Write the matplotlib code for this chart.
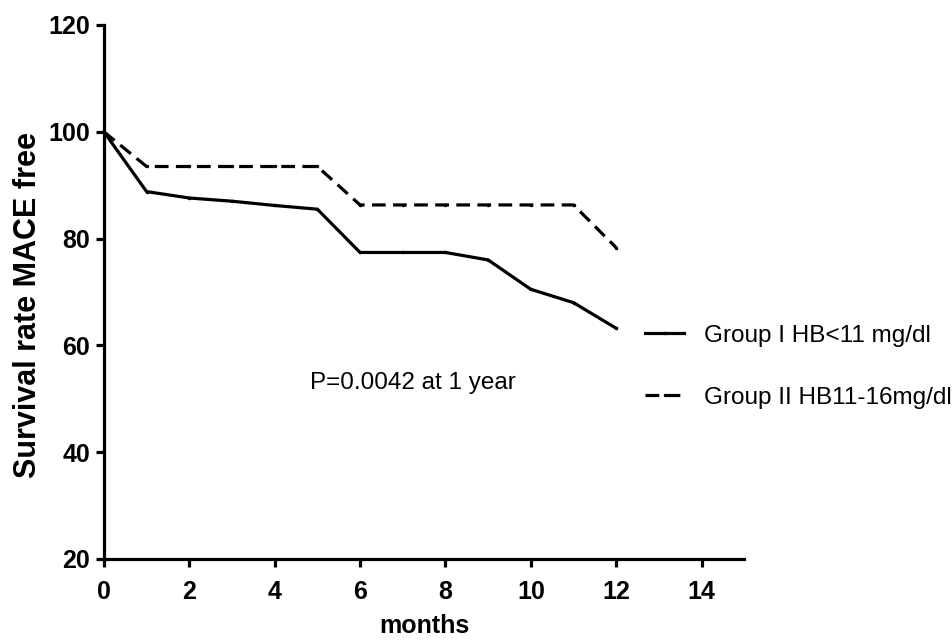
import matplotlib
matplotlib.use("Agg")
from matplotlib import pyplot as plt

months = [0, 1, 2, 3, 4, 5, 6, 7, 8, 9, 10, 11, 12]
group_1 = [100, 88.8, 87.6, 87.0, 86.2, 85.5, 77.4, 77.4, 77.4, 76.0, 70.5, 68.0, 63.2]
group_2 = [100, 93.5, 93.5, 93.5, 93.5, 93.5, 86.3, 86.3, 86.3, 86.3, 86.3, 86.3, 78.3]
labels = ["Group I HB<11 mg/dl", "Group II HB11-16mg/dl"]

plt.rcParams["font.family"] = ["Liberation Sans", "DejaVu Sans"]

fig = plt.figure(figsize=(9.53, 6.41), dpi=100)
ax = fig.add_axes((0.109, 0.128, 0.672, 0.833))

ax.plot(months, group_1, color="k", linewidth=2.3, marker=".", markersize=3, label=labels[0])
ax.plot(months, group_2, color="k", linewidth=2.3, linestyle=(0, (4.3, 2.3)), marker=".", markersize=3, label=labels[1])

ax.set_xlim(0, 15)
ax.set_ylim(20, 120)
ax.set_xticks(range(0, 15, 2))
ax.set_yticks(range(20, 121, 20))
for side in ("top", "right"):
	ax.spines[side].set_visible(False)
for side in ("left", "bottom"):
	ax.spines[side].set_linewidth(2.3)
ax.tick_params(width=2.3, length=6, labelsize=18, pad=4)
ax.tick_params(axis="x", pad=9)
for lbl in ax.get_xticklabels() + ax.get_yticklabels():
	lbl.set_fontweight("bold")

ax.set_xlabel("months", fontsize=18, fontweight="bold", labelpad=7)
ax.set_ylabel("Survival rate MACE free", fontsize=22, fontweight="bold", labelpad=4, y=0.476)

ax.text(7.24, 53.0, "P=0.0042 at 1 year", fontsize=17.5, ha="center", va="center")

ax.legend(
	loc="center left", bbox_to_anchor=(0.677, 0.428), bbox_transform=fig.transFigure,
	frameon=False, fontsize=17.5, handlelength=1.6, labelspacing=1.65, handletextpad=0.8,
	borderpad=0, borderaxespad=0,
)

fig.savefig("out.png", dpi=100)
